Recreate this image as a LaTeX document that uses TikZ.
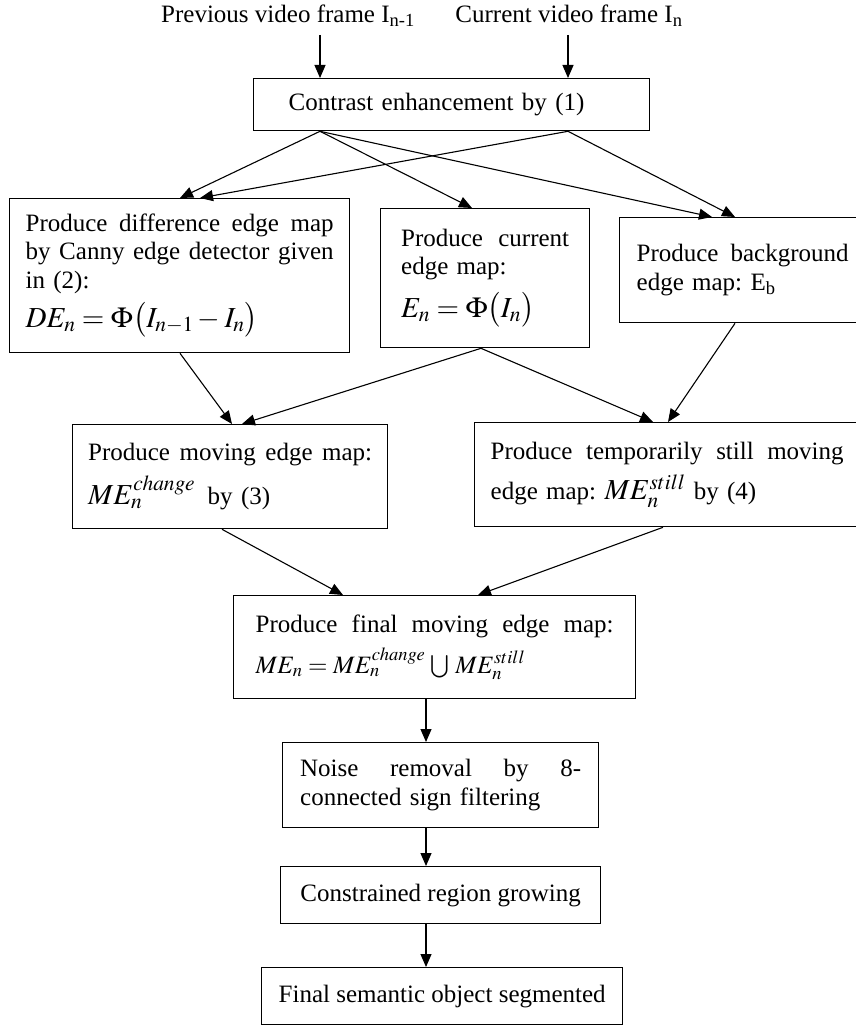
\documentclass[tikz,border=0pt]{standalone}
\usepackage{mathptmx}
\usepackage{fontspec}
\setmainfont{Liberation Serif}
\usetikzlibrary{arrows.meta,calc}
\newcommand\jline[2]{\leavevmode\hbox to #1{#2}}
\newcommand\fmlsize{\fontsize{29}{30}\selectfont}
\begin{document}
\frenchspacing
\begin{tikzpicture}[x=1pt,y=-1pt,
  box/.style={draw, line width=1.3pt, inner xsep=0pt, inner ysep=0pt, anchor=north west, align=left, font=\fontsize{25}{28.5}\selectfont\frenchspacing},
  lbl/.style={inner sep=2pt, font=\fontsize{25}{28.5}\selectfont},
  arr/.style={line width=1.1pt, -{Triangle[length=13pt,width=11pt]}}]
\useasboundingbox (0,0) rectangle (855,1025);

% input labels
\node[lbl] (prev) at (288,16) {Previous video frame I\textsubscript{n-1}};
\node[lbl] (curf) at (569,16) {Current video frame I\textsubscript{n}};
\coordinate (s1) at (320,35);
\coordinate (s2) at (568,35);

% boxes
\node[box, minimum width=396pt, minimum height=52pt, text width=326pt] (con) at (253,78)
  {Contrast enhancement by (1)};

\node[box, minimum width=340pt, minimum height=154pt, text width=308pt] (de) at (9,198)
  {\jline{308pt}{Produce\hfil difference\hfil edge\hfil map}\\
   \jline{308pt}{by\hfil Canny\hfil edge\hfil detector\hfil given}\\
   in (2):\\[8pt]
   {\fmlsize $DE_n=\Phi\big(I_{n-1}-I_n\big)$}};

\node[box, minimum width=209pt, minimum height=139pt, text width=168pt] (cur) at (380,208)
  {\jline{168pt}{Produce\hfil current}\\
   edge map:\\[11pt]
   {\fmlsize $E_n=\Phi\big(I_n\big)$}\par\vspace{12pt}};

\node[box, minimum width=246pt, minimum height=105pt, text width=212pt] (bg) at (619,217)
  {\jline{212pt}{Produce\hfil background}\\
   edge map: E\textsubscript{b}\par\vspace{36pt}};

\node[box, minimum width=315pt, minimum height=104pt, text width=284pt] (mov) at (72,424)
  {\jline{284pt}{Produce\hfil moving\hfil edge\hfil map:}\\[9pt]
   {\fmlsize $ME_n^{change}$}\ \,by (3)};

\node[box, minimum width=385pt, minimum height=104pt, text width=353pt] (tmp) at (474,422)
  {\jline{353pt}{Produce\hfil temporarily\hfil still\hfil moving}\\[9pt]
   edge map: {\fmlsize $ME_n^{still}$} by (4)};

\node[box, minimum width=402pt, minimum height=103pt, text width=358pt] (fin) at (233,595)
  {\jline{358pt}{Produce\hfil final\hfil moving\hfil edge\hfil map:}\\[9pt]
   $ME_n=ME_n^{change}\,\bigcup\, ME_n^{still}$};

\node[box, minimum width=316pt, minimum height=85pt, text width=281pt] (noi) at (282,742)
  {\jline{281pt}{Noise\hfil removal\hfil by\hfil 8-}\\
   connected sign filtering};

\node[box, minimum width=320pt, minimum height=57pt, align=center] (crg) at (280,866)
  {Constrained region growing};

\node[box, minimum width=361pt, minimum height=57pt, align=center] (sem) at (261,967)
  {Final semantic object segmented};

% connectors
\draw[arr] (s1) -- ([xshift=67pt]con.north west);
\draw[arr] (s2) -- ([xshift=315pt]con.north west);

\draw[arr] ([xshift=67pt]con.south west) -- ([xshift=171pt]de.north west);
\draw[arr] ([xshift=315pt]con.south west) -- ([xshift=191pt]de.north west);
\draw[arr] ([xshift=67pt]con.south west) -- ([xshift=92pt]cur.north west);
\draw[arr] ([xshift=67pt]con.south west) -- ([xshift=93pt]bg.north west);
\draw[arr] ([xshift=315pt]con.south west) -- ([xshift=116pt]bg.north west);

\draw[arr] ([xshift=171pt]de.south west) -- ([xshift=160pt]mov.north west);
\draw[arr] ([xshift=101pt]cur.south west) -- ([xshift=170pt]mov.north west);
\draw[arr] ([xshift=101pt]cur.south west) -- ([xshift=179pt]tmp.north west);
\draw[arr] ([xshift=116pt]bg.south west) -- ([xshift=194pt]tmp.north west);

\draw[arr] ([xshift=150pt]mov.south west) -- ([xshift=110pt]fin.north west);
\draw[arr] ([xshift=189pt]tmp.south west) -- ([xshift=245pt]fin.north west);

\draw[arr] ([xshift=193pt]fin.south west) -- ([xshift=144pt]noi.north west);
\draw[arr] ([xshift=144pt]noi.south west) -- ([xshift=146pt]crg.north west);
\draw[arr] ([xshift=146pt]crg.south west) -- ([xshift=165pt]sem.north west);
\end{tikzpicture}
\end{document}
